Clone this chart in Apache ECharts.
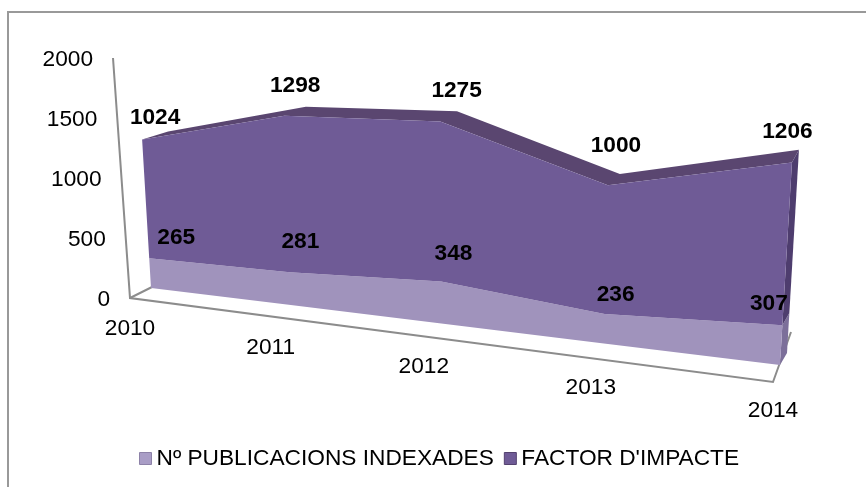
<!DOCTYPE html>
<html>
<head>
<meta charset="utf-8">
<style>
html, body { margin: 0; padding: 0; background: #fff; }
#chart { width: 866px; height: 487px; }
</style>
<script src="https://cdn.jsdelivr.net/npm/echarts@6/dist/echarts.min.js"></script>
</head>
<body>
<div id="chart"></div>
<script>
const years = ['2010', '2011', '2012', '2013', '2014'];
const publicacions = [265, 281, 348, 236, 307];
const factorImpacte = [1024, 1298, 1275, 1000, 1206];
const yTicks = [0, 500, 1000, 1500, 2000];

const yMax = 2000;
const fontName = '"Liberation Sans", Arial, sans-serif';
const fontSize = 22.7;

// Excel-style 3D look: front and back planes of the area block, as screen quads
// order: bottom-left, bottom-right, top-right, top-left
const frontQuad = [[151, 288], [780, 365], [796, 94], [137, 54]];
const backQuad = [[177, 280], [787, 353], [803, 81], [163, 46]];
const floorQuad = [[130, 298], [773, 382], [791, 332], [152, 287]];
const wallTop = [113, 58];

// hand placement of the data labels, Excel does not keep them on a line
const pubLabelShift = [[14, -16], [0, -26], [4, -23], [5, -14], [-17, -15]];
const factorLabelShift = [[0, -18], [0, -25], [8, -26], [2, -34], [-8, -24]];

// unit square -> quad
function makeProjection(q) {
    const dx1 = q[1][0] - q[2][0], dx2 = q[3][0] - q[2][0], dx3 = q[0][0] - q[1][0] + q[2][0] - q[3][0];
    const dy1 = q[1][1] - q[2][1], dy2 = q[3][1] - q[2][1], dy3 = q[0][1] - q[1][1] + q[2][1] - q[3][1];
    const den = dx1 * dy2 - dx2 * dy1;
    const g = (dx3 * dy2 - dx2 * dy3) / den;
    const h = (dx1 * dy3 - dx3 * dy1) / den;
    const a = q[1][0] - q[0][0] + g * q[1][0], b = q[3][0] - q[0][0] + h * q[3][0], c = q[0][0];
    const d = q[1][1] - q[0][1] + g * q[1][1], e = q[3][1] - q[0][1] + h * q[3][1], f = q[0][1];
    return (u, v) => {
        const w = g * u + h * v + 1;
        return [(a * u + b * v + c) / w, (d * u + e * v + f) / w];
    };
}
const toFront = makeProjection(frontQuad);
const toBack = makeProjection(backQuad);

// grid pixel from the axes -> unit square -> screen
function planePoint(params, api, project, i, value) {
    const p = api.coord([i, value]);
    const r = params.coordSys;
    return project((p[0] - r.x) / r.width, (r.y + r.height - p[1]) / r.height);
}

function bandRenderer(baseValues, topValues, faceColor, topColor, sideColor, labelValues, labelShift) {
    return function (params, api) {
        const i = params.dataIndex;
        const last = years.length - 1;
        const children = [];
        if (i === 0) {
            const front = topValues.map((v, k) => planePoint(params, api, toFront, k, v));
            const frontBase = baseValues.map((v, k) => planePoint(params, api, toFront, k, v));
            const back = topValues.map((v, k) => planePoint(params, api, toBack, k, v));
            if (topColor) {
                children.push({ type: 'polygon', shape: { points: front.concat(back.slice().reverse()) }, style: { fill: topColor } });
            }
            children.push({
                type: 'polygon',
                shape: {
                    points: [front[last], back[last],
                        planePoint(params, api, toBack, last, baseValues[last]), frontBase[last]]
                },
                style: { fill: sideColor }
            });
            children.push({ type: 'polygon', shape: { points: front.concat(frontBase.slice().reverse()) }, style: { fill: faceColor } });
        }
        const f = planePoint(params, api, toFront, i, api.value(1));
        const b = planePoint(params, api, toBack, i, api.value(1));
        children.push({
            type: 'text',
            z2: 100,
            style: {
                text: String(labelValues[i]),
                x: (f[0] + b[0]) / 2 + labelShift[i][0],
                y: (f[1] + b[1]) / 2 + labelShift[i][1],
                align: 'center',
                verticalAlign: 'middle',
                fill: '#000',
                font: 'bold ' + fontSize + 'px ' + fontName
            }
        });
        return { type: 'group', children: children };
    };
}

const zeros = years.map(() => 0);
const stackedTop = factorImpacte.map((v, i) => v + publicacions[i]);

const option = {
    animation: false,
    backgroundColor: '#fff',
    grid: { left: 100, right: 100, top: 60, bottom: 100, show: false },
    xAxis: { type: 'category', data: years, boundaryGap: false, show: false },
    yAxis: { type: 'value', min: 0, max: yMax, interval: 500, show: false },
    legend: {
        left: 139,
        top: 447,
        padding: 0,
        itemWidth: 12,
        itemHeight: 12,
        itemGap: 10,
        icon: 'rect',
        textStyle: { fontFamily: 'Liberation Sans', fontSize: fontSize, color: '#000' },
        data: [
            { name: 'Nº PUBLICACIONS INDEXADES', itemStyle: { color: '#a99dc6', borderColor: '#8d82a8', borderWidth: 1 } },
            { name: "FACTOR D'IMPACTE", itemStyle: { color: '#6f5b96', borderColor: '#54426f', borderWidth: 1 } }
        ]
    },
    graphic: [
        { type: 'rect', shape: { x: 8, y: 12, width: 870, height: 490 }, style: { fill: 'none', stroke: '#999', lineWidth: 2 }, z: 0 }
    ],
    series: [
        {
            // floor, wall line and axis text
            type: 'custom',
            name: 'eixos',
            silent: true,
            clip: false,
            z: 1,
            data: years.map((y, i) => [i, 0]),
            renderItem: function (params, api) {
                const i = params.dataIndex;
                const children = [];
                if (i === 0) {
                    const lineStyle = { fill: 'none', stroke: '#8c8c8c', lineWidth: 2 };
                    children.push({ type: 'polyline', shape: { points: [wallTop, floorQuad[0], floorQuad[1], floorQuad[2]] }, style: lineStyle });
                    children.push({ type: 'polyline', shape: { points: [floorQuad[0], floorQuad[3]] }, style: lineStyle });
                    yTicks.forEach(function (t) {
                        const s = t / yMax;
                        children.push({
                            type: 'text',
                            style: {
                                text: String(t),
                                x: floorQuad[0][0] + (wallTop[0] - floorQuad[0][0]) * s - 20,
                                y: floorQuad[0][1] + (wallTop[1] - floorQuad[0][1]) * s + 1.5,
                                align: 'right',
                                verticalAlign: 'middle',
                                fill: '#000',
                                font: fontSize + 'px ' + fontName
                            }
                        });
                    });
                }
                const base = planePoint(params, api, toFront, i, 0);
                const u = i / (years.length - 1);
                children.push({
                    type: 'text',
                    style: {
                        text: years[i],
                        x: base[0] - 21 + 14 * u * u,
                        y: base[1] + 41 + 5 * u,
                        align: 'center',
                        verticalAlign: 'middle',
                        fill: '#000',
                        font: fontSize + 'px ' + fontName
                    }
                });
                return { type: 'group', children: children };
            }
        },
        {
            type: 'custom',
            name: 'Nº PUBLICACIONS INDEXADES',
            clip: false,
            itemStyle: { color: '#a093bc' },
            data: publicacions.map((v, i) => [i, v]),
            renderItem: bandRenderer(zeros, publicacions, '#a093bc', null, '#7c6f9a', publicacions, pubLabelShift)
        },
        {
            type: 'custom',
            name: "FACTOR D'IMPACTE",
            clip: false,
            itemStyle: { color: '#6f5b96' },
            data: stackedTop.map((v, i) => [i, v]),
            renderItem: bandRenderer(publicacions, stackedTop, '#6f5b96', '#5a4670', '#4e3d6e', factorImpacte, factorLabelShift)
        }
    ]
};

const chart = echarts.init(document.getElementById('chart'), null, { renderer: 'canvas' });
chart.setOption(option);
</script>
</body>
</html>
